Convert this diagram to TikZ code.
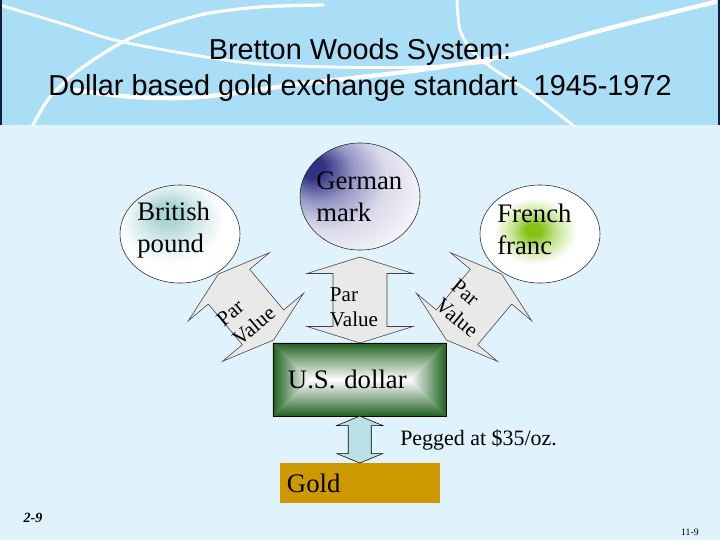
\documentclass[tikz,border=0pt]{standalone}
\usepackage{fontspec}
\setmainfont{Liberation Serif}
\newfontfamily\headfont{Liberation Sans}
\usetikzlibrary{calc,positioning,shapes.geometric}

\definecolor{bandblue}{RGB}{170,221,246}
\definecolor{paleblue}{RGB}{224,243,252}
\definecolor{bandedge}{RGB}{20,30,60}
\definecolor{poundteal}{RGB}{170,212,214}
\definecolor{poundmid}{RGB}{210,232,233}
\definecolor{markblue}{RGB}{50,50,132}
\definecolor{markmid}{RGB}{150,150,198}
\definecolor{markpale}{RGB}{218,218,234}
\definecolor{francgreen}{RGB}{130,195,20}
\definecolor{francmid}{RGB}{196,226,140}
\definecolor{dollargreen}{RGB}{32,98,34}
\definecolor{goldfill}{RGB}{204,153,0}
\definecolor{pargray}{RGB}{233,233,233}
\definecolor{pegblue}{RGB}{186,224,230}

\pgfdeclareradialshading{poundglow}{\pgfpoint{-6bp}{12bp}}{color(0bp)=(poundteal); color(5bp)=(poundteal); color(12bp)=(poundmid); color(22bp)=(white); color(50bp)=(white)}
\pgfdeclareradialshading{markglow}{\pgfpoint{-22bp}{15bp}}{color(0bp)=(markblue); color(5bp)=(markblue); color(14bp)=(markmid); color(24bp)=(markpale); color(40bp)=(white); color(60bp)=(white)}
\pgfdeclareradialshading{francglow}{\pgfpoint{-3bp}{2bp}}{color(0bp)=(francgreen); color(3bp)=(francgreen); color(9bp)=(francmid); color(17bp)=(white); color(50bp)=(white)}

\tikzset{
  currency/.style={ellipse, draw=black!85, line width=0.4pt, inner sep=0pt, minimum width=3cm, minimum height=2.45cm},
  currencytext/.style={align=left, inner sep=0pt, anchor=west, font=\fontsize{19}{22.8}\selectfont},
  parshape/.style={draw=black!75, fill=pargray, line width=0.4pt},
  partext/.style={align=left, inner sep=0pt, font=\fontsize{15}{17.8}\selectfont},
  pegshape/.style={draw=black, fill=pegblue, line width=0.4pt},
  dollarbox/.style={draw=black, line width=0.5pt, minimum width=4.325cm, minimum height=1.825cm,
    inner xsep=0.375cm, text width=3.575cm, align=left, font=\fontsize{19}{22.8}\selectfont,
    path picture={
      \coordinate (dl) at ($(path picture bounding box.west)+(0.9125cm,0)$);
      \coordinate (dr) at ($(path picture bounding box.east)+(-0.9125cm,0)$);
      \shade[top color=dollargreen, bottom color=white] (path picture bounding box.north west) -- (path picture bounding box.north east) -- (dr) -- (dl) -- cycle;
      \shade[top color=white, bottom color=dollargreen] (path picture bounding box.south west) -- (path picture bounding box.south east) -- (dr) -- (dl) -- cycle;
      \shade[left color=dollargreen, right color=white] (path picture bounding box.north west) -- (dl) -- (path picture bounding box.south west) -- cycle;
      \shade[left color=white, right color=dollargreen] (path picture bounding box.north east) -- (dr) -- (path picture bounding box.south east) -- cycle;
    }},
  goldbox/.style={fill=goldfill, minimum width=4cm, minimum height=1cm, inner xsep=0.175cm,
    text width=3.65cm, align=left, font=\fontsize{19}{22.8}\selectfont},
  titletext/.style={align=center, inner sep=0pt, font=\headfont\fontsize{20.5}{26}\selectfont},
  swirl/.style={white, line cap=round}
}

\begin{document}
\begin{tikzpicture}[x=0.025cm, y=-0.025cm]
  \useasboundingbox (0,0) rectangle (720,540);

  % backdrop and title band
  \fill[paleblue] (0,0) rectangle (720,540);
  \fill[bandblue] (0,0) rectangle (720,125);
  \begin{scope}
    \clip (0,0) rectangle (720,125);
    \draw[swirl, line width=0.07cm] plot[smooth] coordinates {(0,5) (60,23) (123,42) (240,62) (330,67) (420,67) (490,62)};
    \draw[swirl, line width=0.08cm] plot[smooth] coordinates {(32,127) (50,97) (83,67) (133,37) (200,15) (260,7) (323,5)};
    \draw[swirl, line width=0.11cm] plot[smooth] coordinates {(75,90) (133,97) (200,97) (300,84) (420,70) (510,55) (610,28) (715,2)};
    \draw[swirl, line width=0.07cm] plot[smooth] coordinates {(457,0) (460,30) (473,52) (495,70) (530,92) (575,127)};
  \end{scope}
  \draw[bandedge, line width=0.05cm] (1,0) -- (1,125) (719,0) -- (719,125);

  \node[titletext] (title) at (360,70) {Bretton Woods System:\\Dollar based gold exchange standart~~1945-1972};

  % par value arrows
  \foreach \cx/\cy/\turn [count=\i] in {246/307/40, 360/300/0, 474/307/-40} {
    \begin{scope}[shift={(\cx,\cy)}, rotate=\turn]
      \draw[parshape] (0,-43) -- (53,-26.5) -- (27,-26.5) -- (27,26.5) -- (53,26.5) -- (0,43)
        -- (-53,26.5) -- (-27,26.5) -- (-27,-26.5) -- (-53,-26.5) -- cycle;
      \node[partext, transform shape] (par\i) at (-6,7) {Par\\Value};
    \end{scope}
  }

  % currencies
  \node[currency, shading=poundglow] (pound) at (180,234) {};
  \node[currency, shading=markglow, minimum height=2.675cm] (mark) at (360,196.5) {};
  \node[currency, shading=francglow] (franc) at (540,234) {};
  \node[currencytext] (poundtxt) at (137,230) {British\\pound};
  \node[currencytext] (marktxt) at (316,197) {German\\mark};
  \node[currencytext] (franctxt) at (497,229.5) {French\\franc};

  \node[dollarbox] (dollar) at (359.5,379.5) {U.S. dollar};
  \node[goldbox] (gold) at (360,483) {Gold};

  \coordinate (pegmid) at ($(dollar.south)!0.5!(gold.north)$);
  \draw[pegshape, shift={(pegmid)}] (0,-23.5) -- (23,-14) -- (11.5,-14) -- (11.5,14) -- (23,14) -- (0,23.5)
    -- (-23,14) -- (-11.5,14) -- (-11.5,-14) -- (-23,-14) -- cycle;
  \node[anchor=west, inner sep=0pt, font=\fontsize{15.6}{18}\selectfont] (pegged) at (400,440) {Pegged at \$35/oz.};

  \node[inner sep=0pt, font=\bfseries\itshape\fontsize{10}{12}\selectfont] (slideno) at (33,518) {2-9};
  \node[inner sep=0pt, font=\fontsize{7}{8}\selectfont] (pageno) at (690,532) {11-9};
\end{tikzpicture}
\end{document}
